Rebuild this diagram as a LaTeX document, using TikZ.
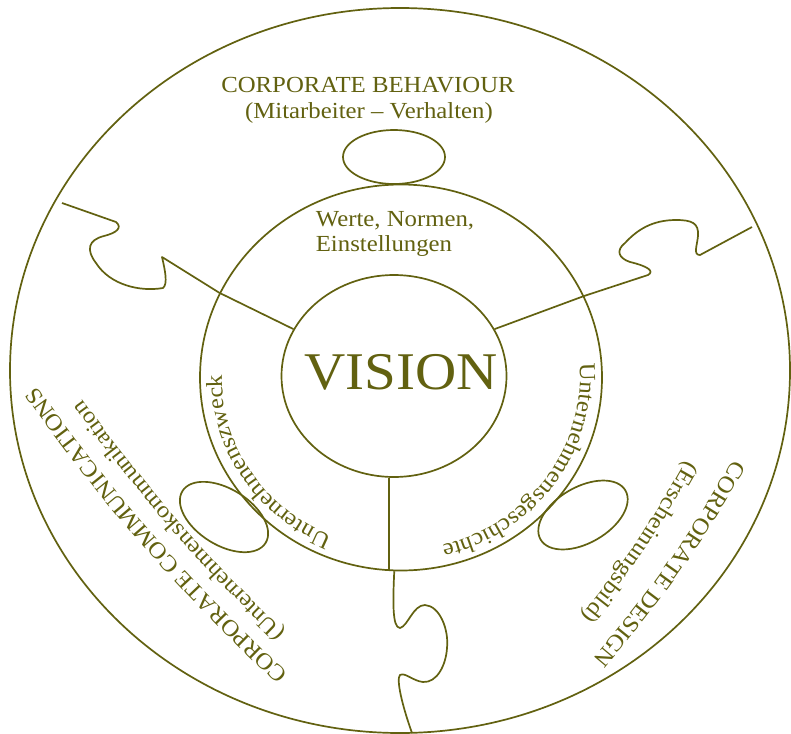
\documentclass[tikz,border=0pt]{standalone}
\usepackage{fontspec}
\setmainfont{Liberation Serif}[FakeStretch=1.077]
\usetikzlibrary{shapes.geometric,decorations.text}
\definecolor{InkOlive}{HTML}{626110}

\begin{document}
\begin{tikzpicture}[
  x=1pt, y=1pt,
  font=\fontsize{23}{26}\selectfont,
  color=InkOlive,
  line width=1.7pt,
  line join=round,
  rim/.style={ellipse,draw,inner sep=0pt},
  knob/.style={ellipse,draw,inner sep=0pt,minimum width=98pt,minimum height=56pt},
  caption/.style={inner sep=0pt},
  arclabel/.style={decorate,decoration={text along path,text align=center,
    text={|\color{InkOlive}\fontsize{23}{26}\selectfont|#1}}}
]
\useasboundingbox[fill=white] (0,0) rectangle (791,-733);

% the three rings
\node[rim,minimum width=780pt,minimum height=725pt] (outer) at (400,-370.5) {};
\node[rim,minimum width=402pt,minimum height=386pt] (ring) at (401,-377.5) {};
\node[rim,minimum width=225pt,minimum height=202pt] (vision) at (394,-376) {};
\node[caption,font=\fontsize{53}{60}\selectfont,anchor=base] (visiontext)
  at (401,-389) {VISION};

% holes where the pieces lock in
\node[knob,minimum width=102pt,minimum height=54pt] (behav) at (394,-157) {};
\node[knob,rotate=-32] (commu) at (224,-517) {};
\node[knob,rotate=30] (design) at (583,-515) {};

% free ends on the rim
\coordinate (edgeW) at (62,-203);
\coordinate (edgeE) at (752,-227);
\coordinate (edgeS) at (412,-733);

% spokes with puzzle tabs
\draw (vision.155) -- (ring.155) -- (162,-257)
  .. controls (165,-270) and (168,-284) .. (163,-288)
  .. controls (140,-292) and (110,-285) .. (96,-263)
  .. controls (86,-250) and (88,-240) .. (104,-236)
  .. controls (116,-233) and (123,-228) .. (116,-222)
  -- (edgeW);
\draw (vision.25) -- (ring.24) -- (648,-275)
  .. controls (655,-271) and (647,-266) .. (630,-262)
  .. controls (618,-258) and (616,-250) .. (625,-243)
  .. controls (637,-230) and (652,-220) .. (676,-220)
  .. controls (692,-220) and (699,-223) .. (698,-236)
  .. controls (697,-246) and (693,-255) .. (700,-255)
  -- (edgeE);
\draw (vision.267) -- (vision.267 |- ring.south);
\draw (ring.268) .. controls (393,-600) and (392,-628) .. (400,-628)
  .. controls (408,-626) and (413,-605) .. (425,-605)
  .. controls (440,-606) and (449,-630) .. (447,-648)
  .. controls (446,-665) and (437,-683) .. (423,-682)
  .. controls (413,-681) and (405,-672) .. (400,-675)
  .. controls (396,-679) and (402,-705) .. (edgeS);

% labels
\node[caption,anchor=base] (behavtitle) at (368,-92.5) {CORPORATE BEHAVIOUR};
\node[caption,anchor=base] (behavsub) at (369,-118) {(Mitarbeiter -- Verhalten)};
\node[caption,anchor=base west] (values) at (315,-226) {Werte, Normen,};
\node[caption,anchor=base west] (attitudes) at (315,-251.5) {Einstellungen};

\path[arclabel={Unternehmensgeschichte}]
  ([shift={(8:179 and 172)}]ring.center)
  arc[start angle=8,end angle=-80,x radius=179,y radius=172];
\path[arclabel={Unternehmenszweck}]
  ([shift={(257:179 and 172)}]ring.center)
  arc[start angle=257,end angle=169,x radius=179,y radius=172];

\path[arclabel={CORPORATE COMMUNICATIONS}] (317,-700.5) to[bend left=6] (14,-354.5);
\path[arclabel={(Unternehmenskommunikation}] (319,-664) to[bend left=6] (56,-362);
\path[arclabel={CORPORATE DESIGN}] (752,-426.4) to[bend left=6] (568,-688.2);
\path[arclabel={(Erscheinungsbild)}] (703.7,-428.4) to[bend left=6] (558.1,-644);
\end{tikzpicture}
\end{document}
